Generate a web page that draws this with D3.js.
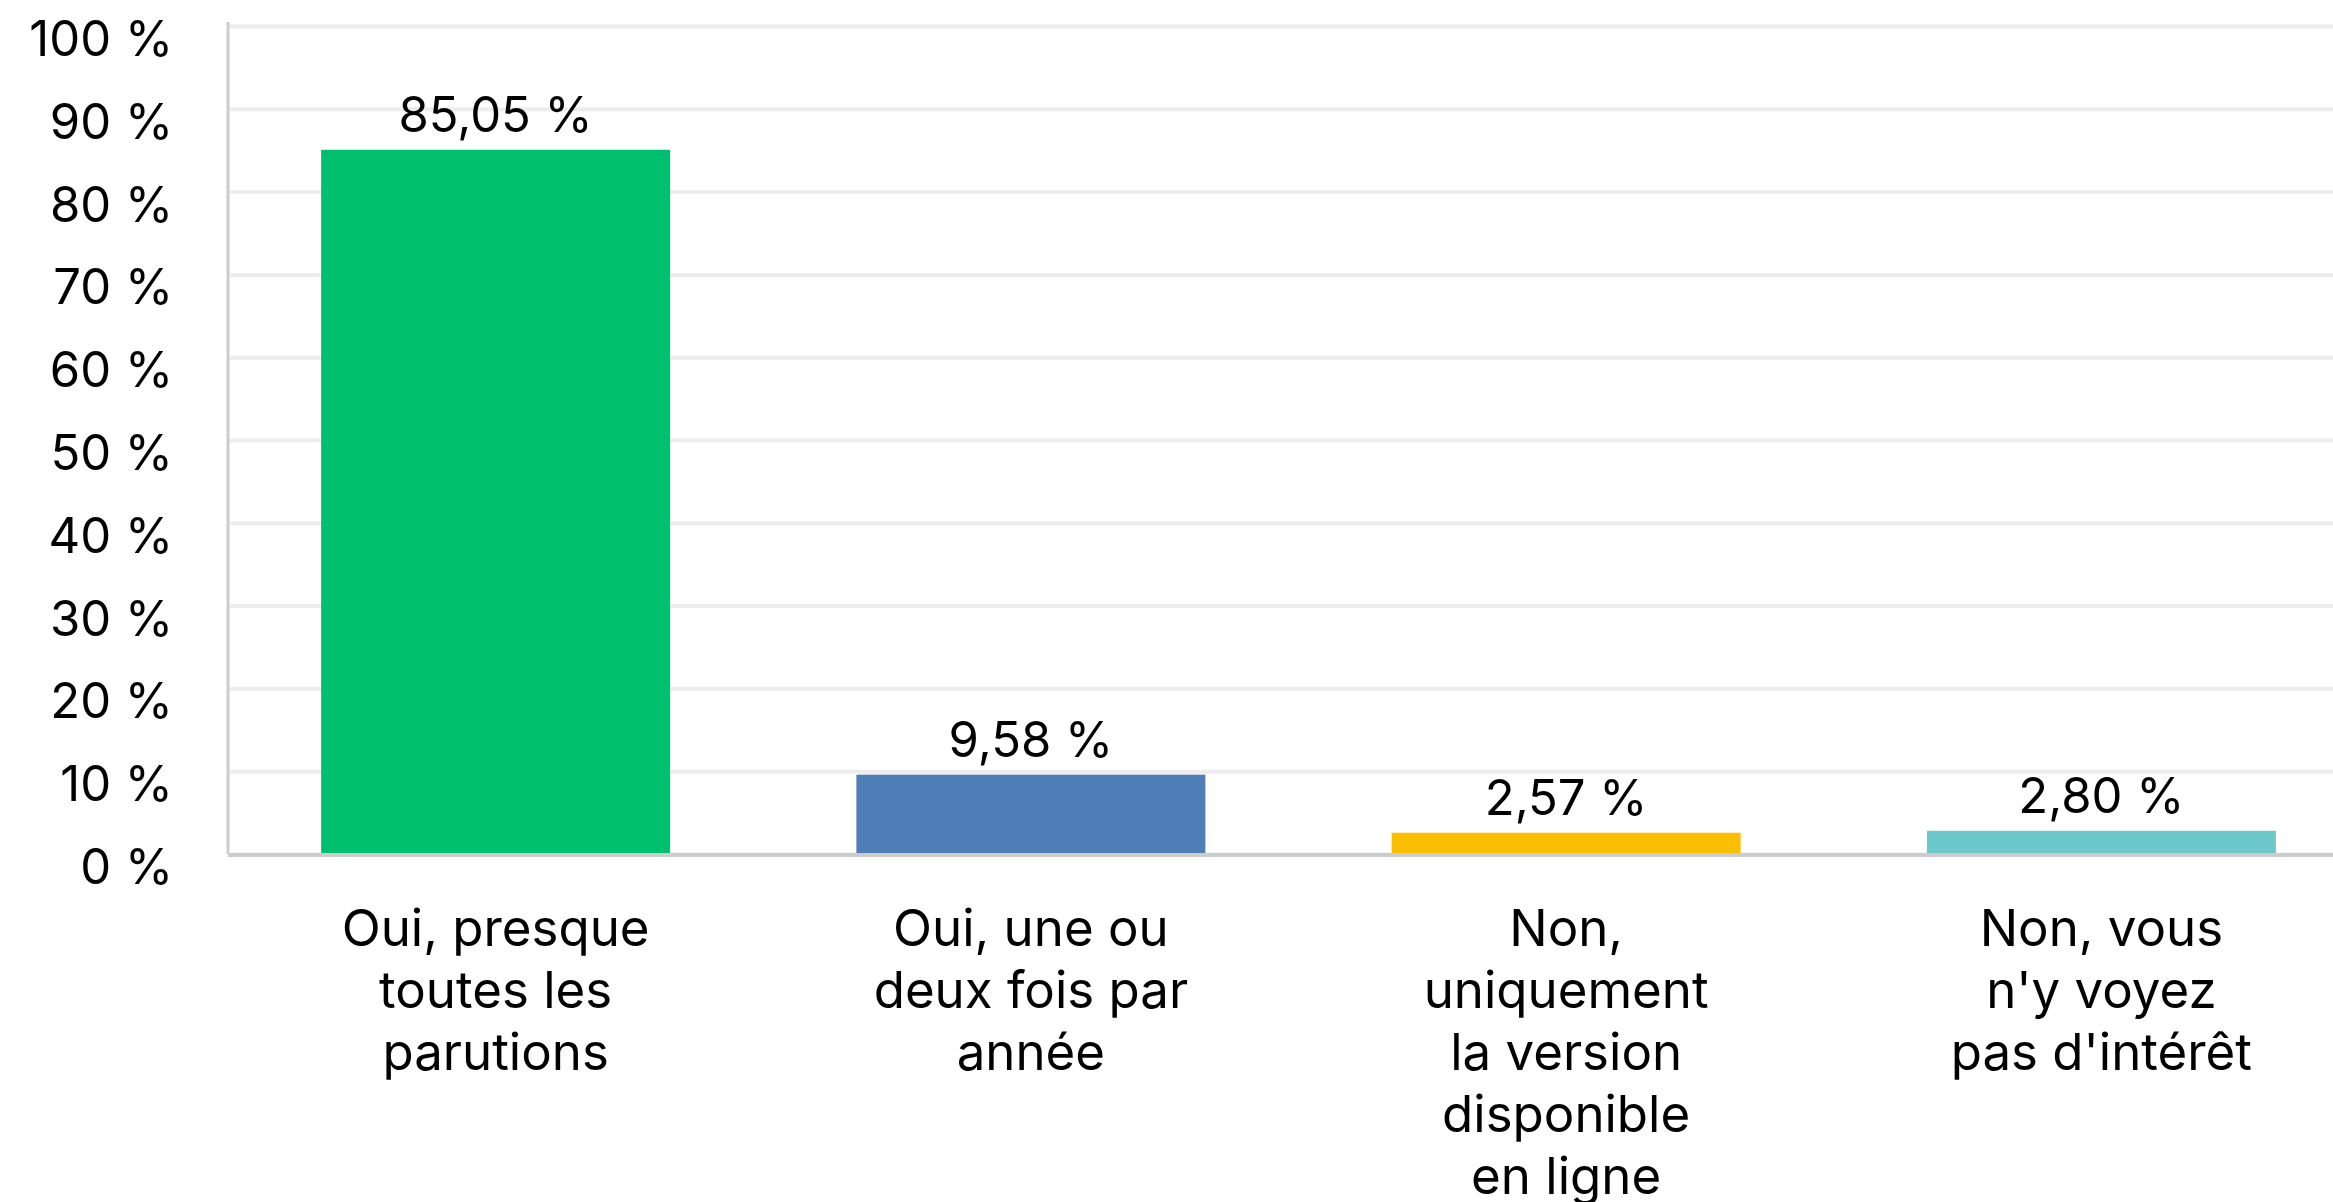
<!DOCTYPE html>
<html>
<head>
<meta charset="utf-8">
<script src="https://cdn.jsdelivr.net/npm/d3@7"></script>
<style>
  body { margin: 0; background: #fff; }
  svg text { font-family: Inter, Roboto, "Liberation Sans", Arial, sans-serif; fill: #000; }
</style>
</head>
<body>
<div class="barchart"></div>
<script>
// categories (line breaks as they appear in the picture)
const categories = [
    "Oui, presque\ntoutes les\nparutions",
    "Oui, une ou\ndeux fois par\nannée",
    "Non,\nuniquement\nla version\ndisponible\nen ligne",
    "Non, vous\nn'y voyez\npas d'intérêt"
];
const values = [85.05, 9.58, 2.57, 2.80];
const colors = ["#00bf6f", "#4f7db5", "#f9bf00", "#6cc7cb"];
const yTicks = [0, 10, 20, 30, 40, 50, 60, 70, 80, 90, 100];

const W = 2333, H = 1202;
const margin = {top: 26, left: 228, bottom: 348};
const plotW = 2141;
const height = H - margin.top - margin.bottom;

const fmt = v => v.toFixed(2).replace(".", ",") + " %";

let svg = d3.select(".barchart")
            .append("svg")
            .attr("width", W)
            .attr("height", H);

let g = svg.append("g")
           .attr("transform", "translate(" + margin.left + "," + margin.top + ")");

let xScale = d3.scaleBand()
        .domain(categories)
        .range([0, plotW])
        .paddingInner(0.348)
        .paddingOuter(0.174);

let yScale = d3.scaleLinear()
        .domain([0, 100])
        .range([height, 0]);

// gridlines
g.append("g")
    .call(d3.axisLeft(yScale).tickValues(yTicks).tickSize(-plotW).tickFormat(""))
    .call(s => s.select(".domain").remove())
    .call(s => s.selectAll("line")
        .attr("stroke", "#ededed")
        .attr("stroke-width", 4)
        .attr("x1", 2));

// y tick labels
g.append("g")
    .call(d3.axisLeft(yScale).tickValues(yTicks).tickSize(0).tickPadding(55)
        .tickFormat(d => d + " %"))
    .call(s => s.select(".domain").remove())
    .call(s => s.selectAll("text")
        .attr("font-size", 49)
        .attr("dy", "0.6em"));

// bars
g.selectAll(".bar")
    .data(values)
    .enter()
    .append("rect")
    .attr("class", "bar")
    .attr("x", (d, i) => xScale(categories[i]))
    .attr("width", xScale.bandwidth())
    .attr("y", d => yScale(d))
    .attr("height", d => height - yScale(d))
    .attr("fill", (d, i) => colors[i]);

// value labels
g.selectAll(".val")
    .data(values)
    .enter()
    .append("text")
    .attr("class", "val")
    .attr("x", (d, i) => xScale(categories[i]) + xScale.bandwidth() / 2)
    .attr("y", d => yScale(d) - 18)
    .attr("text-anchor", "middle")
    .attr("font-size", 49)
    .text(fmt);

// axis lines
g.append("line")
    .attr("x1", 0).attr("x2", 0)
    .attr("y1", -4).attr("y2", height)
    .attr("stroke", "#cccccc").attr("stroke-width", 3);
g.append("line")
    .attr("x1", 0).attr("x2", plotW)
    .attr("y1", height + 1).attr("y2", height + 1)
    .attr("stroke", "#cccccc").attr("stroke-width", 4);

// category labels
let cat = g.selectAll(".cat")
    .data(categories)
    .enter()
    .append("text")
    .attr("class", "cat")
    .attr("text-anchor", "middle")
    .attr("font-size", 51)
    .attr("transform", d => "translate(" + (xScale(d) + xScale.bandwidth() / 2) + "," + (height + 92) + ")");

cat.selectAll("tspan")
    .data(d => d.split("\n"))
    .enter()
    .append("tspan")
    .attr("x", 0)
    .attr("y", (d, i) => i * 62)
    .text(d => d);
</script>
</body>
</html>
